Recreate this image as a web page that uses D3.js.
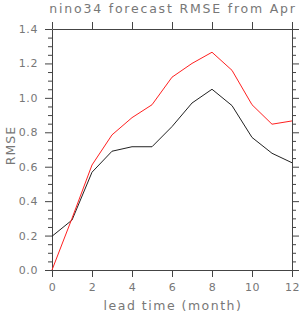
<!DOCTYPE html>
<html>
<head>
<meta charset="utf-8">
<script src="https://cdn.jsdelivr.net/npm/d3@7"></script>
<style>
  body { margin: 0; background: #fff; }
  text { font-family: "DejaVu Sans", sans-serif; fill: #777; }
</style>
</head>
<body>
<div id="chart"></div>
<script>
// lead time in months
const leadTimes = [0, 1, 2, 3, 4, 5, 6, 7, 8, 9, 10, 11, 12];
// RMSE of the two forecasts
const rmseRed = [0.0, 0.30, 0.61, 0.785, 0.885, 0.96, 1.12, 1.20, 1.265, 1.16, 0.96, 0.847, 0.866];
const rmseBlack = [0.196, 0.29, 0.568, 0.69, 0.716, 0.716, 0.833, 0.97, 1.05, 0.955, 0.77, 0.678, 0.623];
const xTicks = [0, 2, 4, 6, 8, 10, 12];
const yTicks = [0.0, 0.2, 0.4, 0.6, 0.8, 1.0, 1.2, 1.4];

const margin = {top: 29, right: 8, bottom: 45, left: 52};
const W = 300, H = 315;
const width = W - margin.left - margin.right;
const height = H - margin.top - margin.bottom;

const svg = d3.select("#chart").append("svg")
    .attr("width", W)
    .attr("height", H);

const g = svg.append("g")
    .attr("transform", `translate(${margin.left},${margin.top})`);

const x = d3.scaleLinear().domain([0, 12]).range([0, width]);
const y = d3.scaleLinear().domain([0, 1.4]).range([height, 0]);

const axisColor = "#444";
const yMinor = d3.range(0, 1.4001, 0.05).filter(v => Math.abs(v * 5 - Math.round(v * 5)) > 1e-6);

function styleAxis(sel) {
    sel.selectAll("path").attr("stroke", axisColor);
    sel.selectAll("line").attr("stroke", axisColor);
}

// minor y ticks (left and right)
g.append("g").call(d3.axisLeft(y).tickValues(yMinor).tickSize(4).tickFormat(""))
    .call(styleAxis).select("path").remove();
g.append("g").attr("transform", `translate(${width},0)`)
    .call(d3.axisRight(y).tickValues(yMinor).tickSize(4).tickFormat(""))
    .call(styleAxis).select("path").remove();

// major axes
const left = g.append("g")
    .call(d3.axisLeft(y).tickValues(yTicks).tickSize(7).tickSizeOuter(0).tickPadding(7).tickFormat(d3.format(".1f")))
    .call(styleAxis);
left.selectAll("text").attr("font-size", 11).style("letter-spacing", "0.6px");

g.append("g").attr("transform", `translate(${width},0)`)
    .call(d3.axisRight(y).tickValues(yTicks).tickSize(7).tickSizeOuter(0).tickFormat(""))
    .call(styleAxis);

const bottom = g.append("g").attr("transform", `translate(0,${height})`)
    .call(d3.axisBottom(x).tickValues(xTicks).tickSize(7).tickSizeOuter(0).tickPadding(6))
    .call(styleAxis);
bottom.selectAll("text").attr("font-size", 11).style("letter-spacing", "0.5px");

g.append("g")
    .call(d3.axisTop(x).tickValues(xTicks).tickSize(7).tickSizeOuter(0).tickFormat(""))
    .call(styleAxis);

// lines
const line = d3.line().x((d, i) => x(leadTimes[i])).y(d => y(d));

g.append("path").datum(rmseBlack)
    .attr("fill", "none").attr("stroke", "#222").attr("stroke-width", 1)
    .attr("d", line);

g.append("path").datum(rmseRed)
    .attr("fill", "none").attr("stroke", "#ff2020").attr("stroke-width", 1)
    .attr("d", line);

// titles
svg.append("text")
    .attr("x", margin.left + width / 2 + 1).attr("y", 13)
    .attr("text-anchor", "middle").attr("font-size", 12.5)
    .style("letter-spacing", "1.8px")
    .text("nino34 forecast RMSE from Apr");

svg.append("text")
    .attr("x", margin.left + width / 2 + 1).attr("y", 310)
    .attr("text-anchor", "middle").attr("font-size", 12.5)
    .style("letter-spacing", "1.5px")
    .text("lead time (month)");

svg.append("text")
    .attr("transform", `translate(15,${margin.top + height / 2 - 4}) rotate(-90)`)
    .attr("text-anchor", "middle").attr("font-size", 12.5)
    .style("letter-spacing", "1px")
    .text("RMSE");
</script>
</body>
</html>
